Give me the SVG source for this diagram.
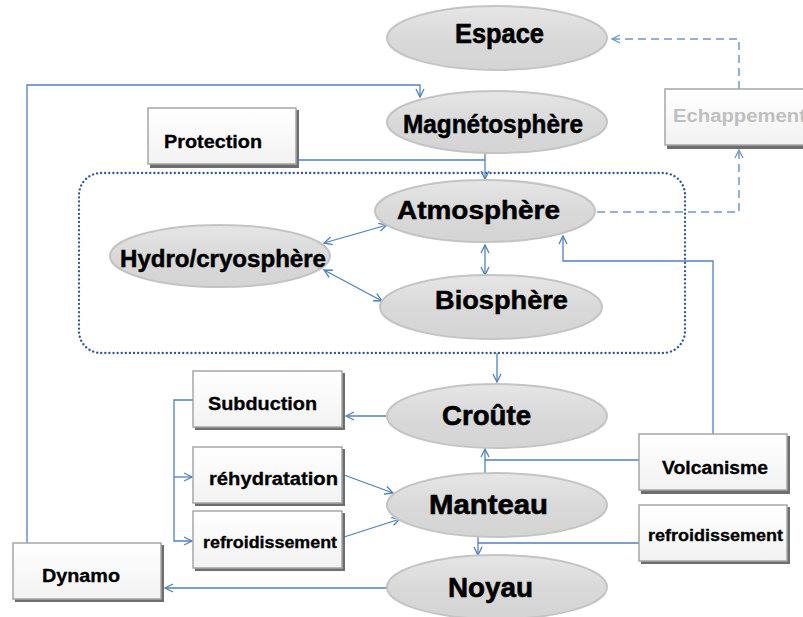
<svg xmlns="http://www.w3.org/2000/svg" width="803" height="617" viewBox="0 0 803 617">
<defs>
<marker id="arr" markerUnits="userSpaceOnUse" markerWidth="12" markerHeight="12" refX="9" refY="5" orient="auto-start-reverse" viewBox="0 0 12 10">
<path d="M1,1 L9,5 L1,9" fill="none" stroke="#4f81bd" stroke-width="1.3"/>
</marker>
<marker id="arrd" markerUnits="userSpaceOnUse" markerWidth="12" markerHeight="12" refX="9" refY="5" orient="auto-start-reverse" viewBox="0 0 12 10">
<path d="M1,1 L9,5 L1,9" fill="none" stroke="#7096cc" stroke-width="1.3"/>
</marker>
<linearGradient id="eg" x1="0" y1="0" x2="0" y2="1">
<stop offset="0" stop-color="#e6e6e6"/>
<stop offset="0.5" stop-color="#d9d9d9"/>
<stop offset="1" stop-color="#d4d4d4"/>
</linearGradient>
<linearGradient id="bg" x1="0" y1="0" x2="0" y2="1">
<stop offset="0" stop-color="#ffffff"/>
<stop offset="1" stop-color="#f2f2f2"/>
</linearGradient>
</defs>
<style>
.ell{fill:url(#eg);stroke:#c4c4c4;stroke-width:2}
.box{fill:url(#bg);stroke:#a6a6a6;stroke-width:1.5}
.bsh{fill:#6e6e6e}
.t{font-family:"Liberation Sans",Arial,sans-serif;font-weight:bold;fill:#000}
.big{font-size:27px;stroke:#000;stroke-width:0.6}
.med{stroke:#000;stroke-width:0.5}
.sm{font-size:18px;stroke:#000;stroke-width:0.3}
.xs{font-size:16px;stroke:#000;stroke-width:0.3}
.c{fill:none;stroke:#4f81bd;stroke-width:1.3}
.d{fill:none;stroke:#7096cc;stroke-width:1.5;stroke-dasharray:8,5}
</style>

<g id="container">
<rect x="79" y="173" width="606" height="180" rx="22" ry="22" fill="none" stroke="#2f5597" stroke-width="2.3" stroke-dasharray="0.1,4" stroke-linecap="round"/>
</g>

<g id="connectors">
<polyline class="d" points="739,89 739,39 612,39" marker-end="url(#arrd)"/>
<polyline class="d" points="597,212 739,212 739,150" marker-end="url(#arrd)"/>
<polyline class="c" points="27,543 27,85 420,85 420,97" marker-end="url(#arr)"/>
<polyline class="c" points="485,154 485,179" marker-end="url(#arr)"/>
<polyline class="c" points="298,160 485,160"/>
<line class="c" x1="485" y1="245" x2="485" y2="275" marker-start="url(#arr)" marker-end="url(#arr)"/>
<line class="c" x1="324" y1="243" x2="387" y2="225" marker-start="url(#arr)" marker-end="url(#arr)"/>
<line class="c" x1="324" y1="270" x2="382" y2="301" marker-start="url(#arr)" marker-end="url(#arr)"/>
<polyline class="c" points="713,434 713,261 563,261 563,236" marker-end="url(#arr)"/>
<polyline class="c" points="497,353 497,382" marker-end="url(#arr)"/>
<polyline class="c" points="387,416 346,416" marker-end="url(#arr)"/>
<polyline class="c" points="193,400 174,400 174,541 192,541" marker-end="url(#arr)"/>
<polyline class="c" points="174,477 192,477" marker-end="url(#arr)"/>
<line class="c" x1="344" y1="475" x2="393" y2="493" marker-end="url(#arr)"/>
<line class="c" x1="344" y1="537" x2="400" y2="519" marker-end="url(#arr)"/>
<polyline class="c" points="485,473 485,449" marker-end="url(#arr)"/>
<polyline class="c" points="639,460 485,460"/>
<polyline class="c" points="478,537 478,555" marker-end="url(#arr)"/>
<polyline class="c" points="639,543 478,543"/>
<polyline class="c" points="387,588 165,588" marker-end="url(#arr)"/>
</g>

<g id="espace">
<ellipse class="ell" cx="497" cy="38" rx="110" ry="32"/>
<text class="t big" x="455" y="43" textLength="89" lengthAdjust="spacingAndGlyphs">Espace</text>
</g>
<g id="magnetosphere">
<ellipse class="ell" cx="497" cy="122" rx="110" ry="31"/>
<text class="t med" style="font-size:25px" x="403" y="133" textLength="180" lengthAdjust="spacingAndGlyphs">Magnétosphère</text>
</g>
<g id="atmosphere">
<ellipse class="ell" cx="485" cy="211" rx="110" ry="31"/>
<text class="t med" style="font-size:26px" x="397" y="219" textLength="163" lengthAdjust="spacingAndGlyphs">Atmosphère</text>
</g>
<g id="biosphere">
<ellipse class="ell" cx="491" cy="307" rx="111" ry="32"/>
<text class="t med" style="font-size:25px" x="435" y="309" textLength="133" lengthAdjust="spacingAndGlyphs">Biosphère</text>
</g>
<g id="hydro">
<ellipse class="ell" cx="220" cy="256" rx="110" ry="31"/>
<text class="t med" style="font-size:23px" x="120" y="267" textLength="206" lengthAdjust="spacingAndGlyphs">Hydro/cryosphère</text>
</g>
<g id="croute">
<ellipse class="ell" cx="497" cy="416" rx="110" ry="32"/>
<text class="t big" x="442" y="425" textLength="89" lengthAdjust="spacingAndGlyphs">Croûte</text>
</g>
<g id="manteau">
<ellipse class="ell" cx="497" cy="505" rx="110" ry="32"/>
<text class="t big" x="429" y="514" textLength="119" lengthAdjust="spacingAndGlyphs">Manteau</text>
</g>
<g id="noyau">
<ellipse class="ell" cx="497" cy="587" rx="110" ry="32"/>
<text class="t big" x="448" y="597" textLength="85" lengthAdjust="spacingAndGlyphs">Noyau</text>
</g>

<g id="protection">
<rect class="bsh" x="150" y="110" width="149" height="58"/>
<rect class="box" x="148" y="108" width="148" height="56"/>
<text class="t sm" x="164" y="148" textLength="98" lengthAdjust="spacingAndGlyphs">Protection</text>
</g>
<g id="echappement">
<rect class="bsh" x="667" y="91" width="150" height="58"/>
<rect class="box" x="665" y="89" width="150" height="56"/>
<text class="t" style="font-size:18px;fill:#bfbfbf" x="673" y="122" textLength="133" lengthAdjust="spacingAndGlyphs">Echappement</text>
</g>
<g id="subduction">
<rect class="bsh" x="195" y="373" width="150" height="57"/>
<rect class="box" x="193" y="371" width="149" height="56"/>
<text class="t sm" x="208" y="410" textLength="109" lengthAdjust="spacingAndGlyphs">Subduction</text>
</g>
<g id="rehydratation">
<rect class="bsh" x="195" y="449" width="150" height="57"/>
<rect class="box" x="193" y="447" width="149" height="56"/>
<text class="t sm" x="209" y="485" textLength="129" lengthAdjust="spacingAndGlyphs">réhydratation</text>
</g>
<g id="refroidissement-l">
<rect class="bsh" x="195" y="513" width="150" height="58"/>
<rect class="box" x="193" y="511" width="149" height="57"/>
<text class="t xs" x="203" y="548" textLength="134" lengthAdjust="spacingAndGlyphs">refroidissement</text>
</g>
<g id="volcanisme">
<rect class="bsh" x="641" y="436" width="149" height="58"/>
<rect class="box" x="639" y="434" width="148" height="56"/>
<text class="t sm" x="662" y="474" textLength="106" lengthAdjust="spacingAndGlyphs">Volcanisme</text>
</g>
<g id="refroidissement-r">
<rect class="bsh" x="641" y="507" width="149" height="57"/>
<rect class="box" x="639" y="505" width="148" height="56"/>
<text class="t xs" x="648" y="541" textLength="135" lengthAdjust="spacingAndGlyphs">refroidissement</text>
</g>
<g id="dynamo">
<rect class="bsh" x="15" y="545" width="149" height="57"/>
<rect class="box" x="13" y="543" width="148" height="56"/>
<text class="t sm" x="42" y="582" textLength="78" lengthAdjust="spacingAndGlyphs">Dynamo</text>
</g>
</svg>
